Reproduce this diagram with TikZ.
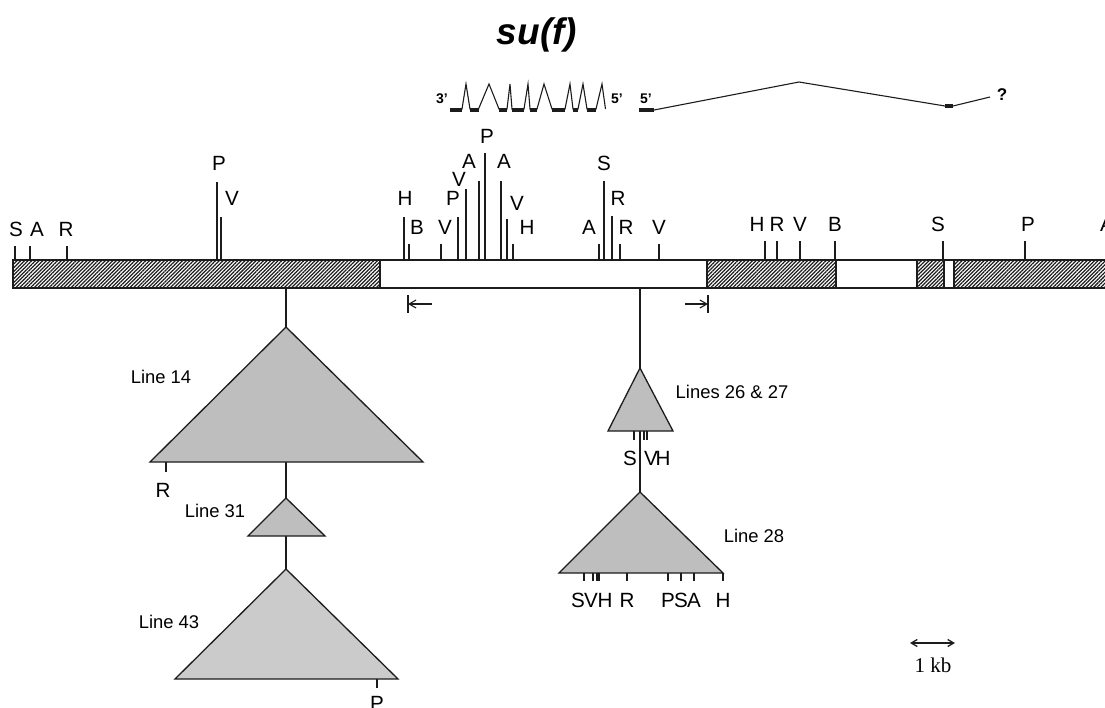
\documentclass[tikz,border=0pt]{standalone}
\usepackage{fontspec}
\setmainfont{Liberation Sans}
\newfontfamily\kbfont{Liberation Serif}
\usetikzlibrary{arrows.meta,patterns.meta}
\definecolor{inkgrey}{HTML}{1c1c1c}
\definecolor{trigrey}{HTML}{bebebe}

\begin{document}
\begin{tikzpicture}[
    x=0.5pt, y=-0.5pt,
    site/.style={font=\fontsize{10.3}{12}\selectfont, inner sep=0pt},
    linelab/.style={font=\fontsize{9.2}{11}\selectfont, inner sep=0pt},
    endlab/.style={font=\fontsize{7}{8}\selectfont\bfseries, inner sep=0pt},
    hatched/.style={draw=inkgrey, line width=0.7pt, pattern={Lines[angle=45, distance=1.3pt, line width=0.62pt]}, pattern color=inkgrey},
    open/.style={draw=inkgrey, line width=0.7pt, fill=white},
    tri/.style={draw=inkgrey, line width=0.65pt, fill=trigrey, line join=miter},
    tick/.style={draw=inkgrey, line width=0.55pt},
    exon/.style={draw=inkgrey, line width=1.6pt},
    fl/.style={-{Straight Barb[length=3.5pt, width=4pt]}, line width=0.55pt, draw=inkgrey},
    scl/.style={{Straight Barb[length=3pt, width=3.5pt]}-{Straight Barb[length=3pt, width=3.5pt]}, line width=0.65pt, draw=inkgrey}
  ]
  \useasboundingbox (0,0) rectangle (1105,708);
  \clip (0,0) rectangle (1105,708);

  \node[font=\fontsize{18.5}{22}\selectfont\bfseries\itshape] (title) at (537,35) {su(f)};

  % transcripts
  \node[endlab] (e3) at (442,99) {3'};
  \node[endlab] (e5a) at (617,99) {5'};
  \node[endlab] (e5b) at (646,99) {5'};
  \node[font=\fontsize{8.5}{9}\selectfont\bfseries, inner sep=0pt] (unk) at (1002,95) {?};
  \draw[tick, line join=miter] (450,109) -- (462,109) -- (466,84) -- (470,109) -- (478.5,109) -- (489,84) -- (499,109)
    -- (507,109) -- (510,84) -- (512,109) -- (524,109) -- (528,84) -- (530,109) -- (537,109) -- (544,84) -- (552,109)
    -- (565,109) -- (570,84) -- (573,109) -- (578,109) -- (583,84) -- (587,109) -- (596,109) -- (602,84) -- (605.5,109);
  \foreach \a/\b in {450/462, 470/478.5, 499/507, 512/524, 530/537, 552/565, 573/578, 587/596}
    \draw[exon] (\a,110) -- (\b,110);
  \coordinate (x1) at (654,110);
  \coordinate (x2) at (945,106);
  \coordinate (x3) at (953,106);
  \draw[exon] (639,110) -- (x1);
  \draw[tick] (x1) -- (799,82) -- (x2);
  \draw[exon] (x2) -- (x3);
  \draw[tick] (x3) -- (990,97);

  % genomic map
  \draw[hatched] (13,260) rectangle (380,288);
  \draw[open] (380,260) rectangle (707,288);
  \draw[hatched] (707,260) rectangle (836,288);
  \draw[open] (836,260) rectangle (917,288);
  \draw[hatched] (917,260) rectangle (944,288);
  \draw[open] (944,260) rectangle (954,288);
  \draw[hatched] (954,260) rectangle (1112,288);

  \foreach \x/\t/\l/\lx/\ly [count=\i] in {
      15/246/S/16/229, 30/246/A/37/229, 67/246/R/66/229, 217/182/P/219/163, 221/217/V/232/198,
      404/217/H/405/198, 409/244/B/417/227, 441/244/V/445/227, 458/217/P/453/198, 466/189/V/459/179,
      479/181/A/469/161, 485/153/P/487/136, 501/181/A/504/161, 507/219/V/517/203, 513/244/H/527/227,
      599/244/A/589/227, 604/181/S/604/163, 612/216/R/618/198, 620/244/R/626/227, 659/244/V/659/227,
      765/241/H/757/224, 777/241/R/777/224, 800/241/V/800/224, 835/241/B/835/224, 943/241/S/938/224,
      1025/241/P/1028/224, 1110/241/A/1107/224}{
    \draw[tick] (\x,260) -- (\x,\t);
    \node[site] (s\i) at (\lx,\ly) {\l};
  }

  \coordinate (bl) at (408,304);
  \coordinate (br) at (708,304);
  \draw[tick] (408,295) -- (408,313);
  \draw[tick] (708,295) -- (708,313);
  \draw[fl] (432,304) -- (bl);
  \draw[fl] (685,304) -- (br);

  % insertions, left
  \coordinate (b14) at (286,288);
  \coordinate (t14) at (286,327);
  \coordinate (d14) at (286,462);
  \coordinate (t31) at (286,498);
  \coordinate (d31) at (286,536);
  \coordinate (t43) at (286,569);
  \draw[tick] (b14) -- (t14);
  \draw[tick] (d14) -- (t31);
  \draw[tick] (d31) -- (t43);
  \draw[tri] (t14) -- (423,462) -- (150,462) -- cycle;
  \draw[tri] (t31) -- (325,536) -- (248,536) -- cycle;
  \draw[tri, fill=trigrey!80] (t43) -- (398,679) -- (175,679) -- cycle;
  \draw[tick] (166,462) -- (166,472);
  \node[site] (r14) at (163,490) {R};
  \draw[tick] (377,679) -- (377,688);
  \node[site] (p43) at (377,703) {P};
  \node[linelab] (l14) at (161,377) {Line 14};
  \node[linelab] (l31) at (215,511) {Line 31};
  \node[linelab] (l43) at (169,622) {Line 43};

  % insertions, right
  \coordinate (b26) at (640,288);
  \coordinate (t26) at (640,368);
  \coordinate (d26) at (640,431);
  \coordinate (t28) at (640,492);
  \draw[tick] (b26) -- (t26);
  \draw[tick] (d26) -- (t28);
  \draw[tri] (t26) -- (673,431) -- (608,431) -- cycle;
  \draw[tri] (t28) -- (723,573) -- (559,573) -- cycle;
  \foreach \x in {634,644,647}
    \draw[tick] (\x,431) -- (\x,440);
  \foreach \x in {584,593,597,599,627,668,681,694,723}
    \draw[tick] (\x,573) -- (\x,581);
  \foreach \l/\x [count=\i] in {S/630, V/651, H/663}
    \node[site] (u\i) at (\x,458) {\l};
  \foreach \l/\x [count=\i] in {S/578, V/591, H/605, R/627, P/668, S/681, A/694, H/723}
    \node[site] (w\i) at (\x,600) {\l};
  \node[linelab] (l26) at (732,392) {Lines 26 \& 27};
  \node[linelab] (l28) at (754,536) {Line 28};

  % scale
  \coordinate (k1) at (910,643);
  \coordinate (k2) at (955,643);
  \draw[scl] (k1) -- (k2);
  \node[font=\kbfont\fontsize{10.5}{12}\selectfont, inner sep=0pt] (kb) at (933,665) {1 kb};
\end{tikzpicture}
\end{document}
